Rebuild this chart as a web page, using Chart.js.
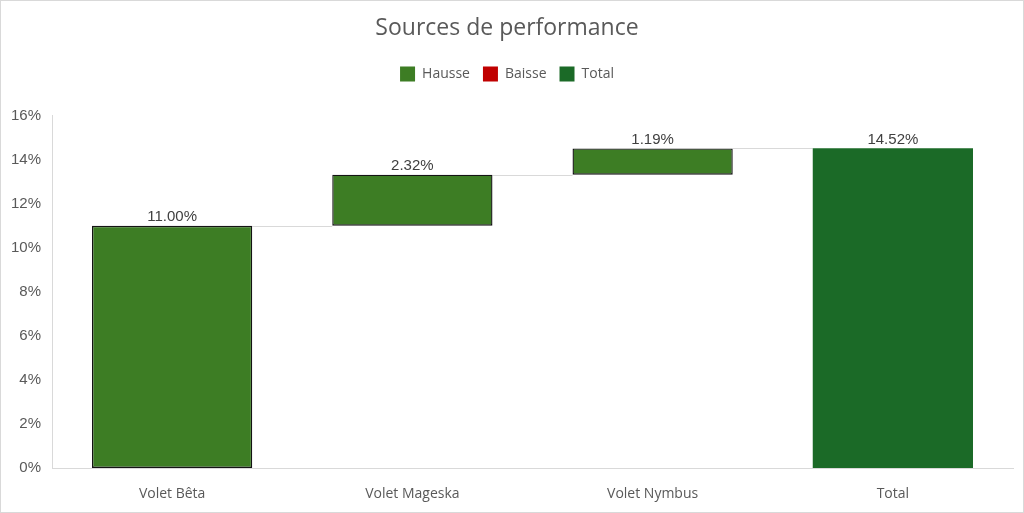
<!DOCTYPE html>
<html>
<head>
<meta charset="utf-8">
<script src="https://cdn.jsdelivr.net/npm/chart.js@4"></script>
<style>
  html, body { margin: 0; padding: 0; background: #fff; }
  #wrap {
    width: 1024px;
    height: 513px;
    box-sizing: border-box;
    border: 1px solid #d9d9d9;
    position: relative;
  }
</style>
</head>
<body>
<div id="wrap"><canvas id="chart"></canvas></div>
<script>
const categories = ["Volet Bêta", "Volet Mageska", "Volet Nymbus", "Total"];
const increases = [11.00, 2.32, 1.19, null];
const decreases = [null, null, null, null];
const totals = [null, null, null, 14.52];
const yTicks = [0, 2, 4, 6, 8, 10, 12, 14, 16];

// floating bars [start, end] from running sum
let running = 0;
const riseBars = increases.map((v) => {
    if (v === null) return null;
    const bar = [running, running + v];
    running += v;
    return bar;
});
const fallBars = decreases.map(() => null);
const totalBars = totals.map((v) => (v === null ? null : [0, v]));

const colors = {
    rise: "#3d7d24",
    fall: "#c00000",
    total: "#1b6a27",
    text: "#595959",
    label: "#404040",
    line: "#d9d9d9",
};

// connectors + value labels
const waterfallPlugin = {
    id: "waterfall",
    beforeDatasetsDraw(chart) {
        const ctx = chart.ctx;
        const y = chart.scales.y;
        const bars = [];
        chart.data.datasets.forEach((ds, di) => {
            const meta = chart.getDatasetMeta(di);
            ds.data.forEach((d, i) => {
                if (d) bars[i] = { el: meta.data[i], top: d[1] };
            });
        });
        ctx.save();
        ctx.strokeStyle = colors.line;
        ctx.lineWidth = 1;
        for (let i = 0; i < bars.length - 1; i++) {
            const a = bars[i], b = bars[i + 1];
            if (!a || !b) continue;
            const py = Math.round(y.getPixelForValue(a.top)) + 0.5;
            ctx.beginPath();
            ctx.moveTo(a.el.x + a.el.width / 2, py);
            ctx.lineTo(b.el.x - b.el.width / 2, py);
            ctx.stroke();
        }
        ctx.restore();
    },
    afterDatasetsDraw(chart) {
        const ctx = chart.ctx;
        ctx.save();
        ctx.font = "15px 'Liberation Sans', Arial, sans-serif";
        ctx.fillStyle = colors.label;
        ctx.textAlign = "center";
        ctx.textBaseline = "bottom";
        const y = chart.scales.y;
        chart.data.datasets.forEach((ds, di) => {
            const meta = chart.getDatasetMeta(di);
            ds.data.forEach((d, i) => {
                if (!d) return;
                const el = meta.data[i];
                const txt = (d[1] - d[0]).toFixed(2) + "%";
                ctx.fillText(txt, el.x, y.getPixelForValue(d[1]) - 1);
            });
        });
        ctx.restore();
    },
};

new Chart(document.getElementById("chart"), {
    type: "bar",
    data: {
        labels: categories,
        datasets: [
            {
                label: "Hausse",
                data: riseBars,
                backgroundColor: colors.rise,
                borderColor: "#141414",
                borderWidth: 1.4,
                borderSkipped: false,
            },
            {
                label: "Baisse",
                data: fallBars,
                backgroundColor: colors.fall,
                borderColor: "#141414",
                borderWidth: 1.4,
                borderSkipped: false,
            },
            {
                label: "Total",
                data: totalBars,
                backgroundColor: colors.total,
                borderWidth: 0,
            },
        ],
    },
    options: {
        responsive: true,
        maintainAspectRatio: false,
        animation: false,
        devicePixelRatio: 1,
        layout: { padding: { left: 0, right: 10, top: 0, bottom: 0 } },
        datasets: {
            bar: { grouped: false, categoryPercentage: 1, barPercentage: 0.667 },
        },
        plugins: {
            title: {
                display: true,
                text: "Sources de performance",
                color: colors.text,
                font: { family: "'Open Sans', sans-serif", size: 23, weight: "normal" },
                padding: { top: 14, bottom: 11 },
            },
            // empty spacer between legend and plot area
            subtitle: {
                display: true,
                text: "",
                weight: 500,
                font: { size: 24, lineHeight: 1 },
                padding: 0,
            },
            legend: {
                position: "top",
                labels: {
                    color: colors.text,
                    font: { family: "'Open Sans', sans-serif", size: 14 },
                    boxWidth: 15,
                    boxHeight: 15,
                    padding: 13,
                    generateLabels(chart) {
                        return Chart.defaults.plugins.legend.labels
                            .generateLabels(chart)
                            .map((l) => ({ ...l, lineWidth: 0, strokeStyle: l.fillStyle }));
                    },
                },
            },
            tooltip: { enabled: false },
        },
        scales: {
            x: {
                grid: { display: false },
                border: { display: true, color: colors.line, width: 1 },
                ticks: {
                    color: colors.text,
                    font: { family: "'Open Sans', sans-serif", size: 14 },
                    padding: 10,
                },
                afterFit(scale) { scale.height = 44; },
            },
            y: {
                min: 0,
                max: 16,
                afterBuildTicks(scale) { scale.ticks = yTicks.map((v) => ({ value: v })); },
                grid: { display: false },
                border: { display: true, color: colors.line, width: 1 },
                ticks: {
                    color: colors.text,
                    font: { family: "'Liberation Sans', Arial, sans-serif", size: 15 },
                    padding: 3,
                    callback: (v) => v + "%",
                },
                afterFit(scale) { scale.width = 51; },
            },
        },
    },
    plugins: [waterfallPlugin],
});
</script>
</body>
</html>
